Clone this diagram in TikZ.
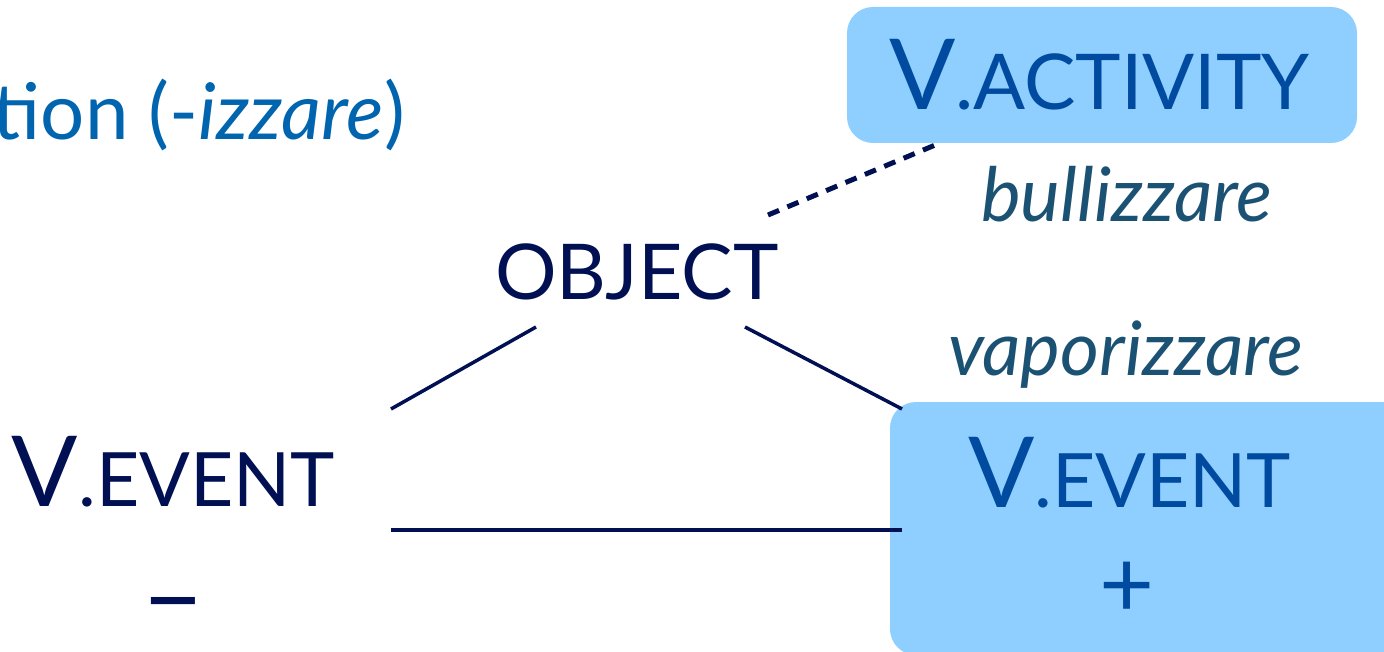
\documentclass[tikz,border=0pt]{standalone}
\usepackage{fontspec}
\setmainfont{Lato}
\definecolor{navy}{RGB}{0,16,82}
\definecolor{boxfill}{RGB}{142,207,255}
\definecolor{boxtxt}{RGB}{0,74,160}
\definecolor{itcol}{RGB}{27,82,115}
\definecolor{titlecol}{RGB}{0,100,175}
\newcommand\myCapV[1]{{\fontsize{98}{98}\selectfont #1}}
\newcommand\myCapS[1]{{\fontsize{77}{77}\selectfont #1}}
\newcommand\myCapSs[1]{{\fontsize{75}{75}\selectfont #1}}
\begin{document}
\begin{tikzpicture}[x=1pt,y=-1pt,
  every node/.style={inner sep=0pt,outer sep=0pt},
  maintext/.style={text=navy},
  boxtext/.style={text=boxtxt},
  itword/.style={text=itcol,font=\fontsize{75}{75}\selectfont\itshape},
  titletext/.style={text=titlecol,font=\fontsize{78}{78}\selectfont},
  hlbox/.style={fill=boxfill,rounded corners=26pt,draw=none},
  conn/.style={draw=navy,line width=3.5pt},
  dashconn/.style={draw=navy,line width=5pt,dash pattern=on 12pt off 9pt}]
\clip (0,0) rectangle (1384,652);
\useasboundingbox (0,0) rectangle (1384,652);
% title
\node[titletext,anchor=base east] (title) at (405,140) {tion (-\textit{izzare})};
% boxes
\node[hlbox,anchor=north west,minimum width=510pt,minimum height=136pt] (actbox) at (847,7) {};
\node[hlbox,anchor=north west,minimum width=540pt,minimum height=253pt] (evbox) at (890,402) {};
% texts
\node[boxtext,anchor=base west] (act) at (889,110) {\myCapV{V}\myCapS{.ACTIVITY}};
\node[itword,anchor=base west] (bull) at (981,222) {bullizzare};
\node[maintext,anchor=base west] (obj) at (495,300) {\myCapS{OBJECT}};
\node[itword,anchor=base west] (vap) at (948,375) {vaporizzare};
\node[boxtext,anchor=base west] (evR) at (968,507) {\myCapV{V}\myCapSs{.EVENT}};
\node[boxtext,font=\fontsize{95}{95}\selectfont] (plus) at (1127,590) {+};
\node[maintext,anchor=base west] (evL) at (12,506) {\myCapV{V}\myCapSs{.EVENT}};
\node[maintext,font=\fontsize{110}{110}\selectfont] (minus) at (173,615) {–};
% connector ends
\coordinate (objL) at (536,327);
\coordinate (evLtop) at (391,409);
\coordinate (objR) at (745,327);
\coordinate (evRtop) at (902,409);
\coordinate (evLmid) at (391,530);
\coordinate (evRmid) at (902,530);
\coordinate (objTR) at (768,215);
\coordinate (actBL) at (940,143);
\draw[conn] (objL) -- (evLtop);
\draw[conn] (objR) -- (evRtop);
\draw[conn] (evLmid) -- (evRmid);
\draw[dashconn] (objTR) -- (actBL);
\end{tikzpicture}
\end{document}
